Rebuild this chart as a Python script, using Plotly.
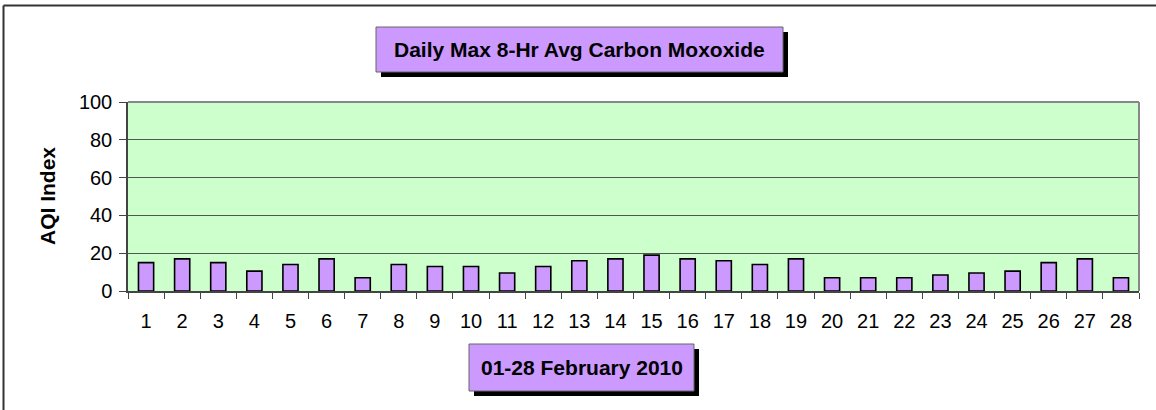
import plotly.graph_objects as go

days = [str(d) for d in range(1, 29)]
aqi = [15, 17, 15, 10.5, 14, 17, 7, 14, 13, 13, 9.5, 13, 16, 17, 19, 17, 16, 14, 17, 7, 7, 7, 8.5, 9.5, 10.5, 15, 17, 7]
y_ticks = [0, 20, 40, 60, 80, 100]
chart_title = "Daily Max 8-Hr Avg Carbon Moxoxide"
x_title = "01-28 February 2010"
y_title = "AQI Index"

W, H = 1156, 410
L, R, T, B = 128, 1139, 102, 291
FONT = "Liberation Sans, Arial, sans-serif"


def px(x):
    return (x - L) / (R - L)


def py(y):
    return (B - y) / (B - T)


fig = go.Figure()
fig.add_trace(go.Bar(
    x=days, y=aqi,
    marker=dict(color="#CC99FF", line=dict(color="#000000", width=1.6)),
    hoverinfo="x+y",
))

shapes = []
# outer frame (top and left visible)
shapes.append(dict(type="line", xref="paper", yref="paper", x0=px(3.5), x1=px(1160), y0=py(5.5), y1=py(5.5),
                   line=dict(color="#333333", width=2)))
shapes.append(dict(type="line", xref="paper", yref="paper", x0=px(3.5), x1=px(3.5), y0=py(5.5), y1=py(415),
                   line=dict(color="#333333", width=2)))
# plot border top / right
shapes.append(dict(type="line", xref="paper", yref="paper", x0=0, x1=1, y0=1, y1=1,
                   line=dict(color="#888888", width=2), layer="above"))
shapes.append(dict(type="line", xref="paper", yref="paper", x0=1, x1=1, y0=0, y1=1,
                   line=dict(color="#888888", width=2), layer="above"))


def box(x0, y0, x1, y1, text, off=6):
    shapes.append(dict(type="rect", xref="paper", yref="paper",
                       x0=px(x0 + off), x1=px(x1 + off), y0=py(y0 + off), y1=py(y1 + off),
                       fillcolor="#000000", line=dict(width=0)))
    shapes.append(dict(type="rect", xref="paper", yref="paper",
                       x0=px(x0), x1=px(x1), y0=py(y0), y1=py(y1),
                       fillcolor="#CC99FF", line=dict(color="#666666", width=1)))
    fig.add_annotation(xref="paper", yref="paper", x=px((x0 + x1) / 2), y=py((y0 + y1) / 2),
                       text="<b>%s</b>" % text, showarrow=False, xanchor="center", yanchor="middle",
                       font=dict(family=FONT, size=21, color="#000000"))


box(376, 27, 783, 72, chart_title, off=5)
box(469, 344, 694, 391, x_title, off=5)

fig.add_annotation(xref="paper", yref="paper", x=px(47), y=py(196), text="<b>%s</b>" % y_title,
                   textangle=-90, showarrow=False, xanchor="center", yanchor="middle",
                   font=dict(family=FONT, size=21, color="#000000"))

fig.update_layout(
    width=W, height=H,
    margin=dict(l=L, r=W - R, t=T, b=H - B, pad=0),
    paper_bgcolor="#FFFFFF",
    plot_bgcolor="#CCFFCC",
    bargap=0.58,
    showlegend=False,
    shapes=shapes,
    font=dict(family=FONT, size=20, color="#000000"),
    xaxis=dict(
        type="category",
        tickson="boundaries",
        ticks="outside", ticklen=6, tickcolor="#444444", tickwidth=1,
        showline=True, linecolor="#444444", linewidth=1.5,
        showgrid=False, zeroline=False,
        tickfont=dict(family=FONT, size=20, color="#000000"),
        ticklabelstandoff=11,
        range=[-0.5, 27.5],
    ),
    yaxis=dict(
        range=[0, 100],
        tickvals=y_ticks,
        ticks="outside", ticklen=7, tickcolor="#444444", tickwidth=1,
        showline=True, linecolor="#444444", linewidth=1.5,
        showgrid=True, gridcolor="#555555", gridwidth=1.3,
        zeroline=False,
        tickfont=dict(family=FONT, size=20, color="#000000"),
        ticklabelstandoff=3,
    ),
)

fig.write_html("out.html", config={"displayModeBar": False})

with open("out.html", "r", encoding="utf-8") as f:
    html = f.read()
html = html.replace("<head>", "<head><style>html,body{margin:0;padding:0;overflow:hidden;}</style>", 1)
with open("out.html", "w", encoding="utf-8") as f:
    f.write(html)
